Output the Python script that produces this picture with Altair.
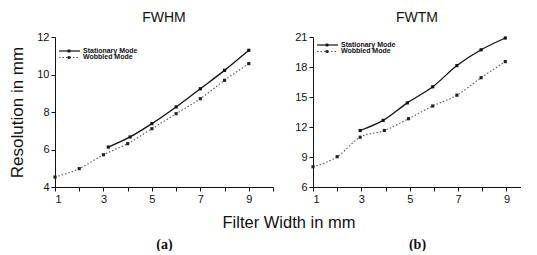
import altair as alt
import pandas as pd

# ---- data ----
fwhm_stat_x = [3.2, 4.1, 5.0, 6.0, 7.0, 8.0, 9.0]
fwhm_stat_y = [6.13, 6.67, 7.38, 8.27, 9.24, 10.22, 11.29]
fwhm_wob_x = [1, 2, 3, 4, 5, 6, 7, 8, 9]
fwhm_wob_y = [4.53, 4.98, 5.72, 6.31, 7.11, 7.91, 8.71, 9.69, 10.58]

fwtm_stat_x = [2.95, 3.9, 4.9, 5.95, 6.95, 7.95, 8.95]
fwtm_stat_y = [11.65, 12.66, 14.41, 16.02, 18.14, 19.72, 20.9]
fwtm_wob_x = [1, 2, 2.95, 3.95, 4.95, 5.95, 6.95, 7.95, 8.95]
fwtm_wob_y = [8.02, 9.03, 10.98, 11.65, 12.83, 14.1, 15.18, 16.93, 18.54]

series_names = ["Stationary Mode", "Wobbled Mode"]
fwhm_x_ticks = [1, 2, 3, 4, 5, 6, 7, 8, 9, 10]
fwtm_x_ticks = [1, 2, 3, 4, 5, 6, 7, 8, 9]
fwhm_y_ticks = [4, 6, 8, 10, 12]
fwtm_y_ticks = [6, 9, 12, 15, 18, 21]

FONT = "Liberation Sans"
H = 150


def frame(xs, ys, name):
    return pd.DataFrame({"x": xs, "y": ys, "series": name})


def panel(title, stat_x, stat_y, wob_x, wob_y, xdom, xticks, ydom, yticks, sub, ytitle, leg_y0, width, extra=None):
    df = pd.concat([frame(stat_x, stat_y, series_names[0]),
                    frame(wob_x, wob_y, series_names[1])])
    xenc = alt.X("x:Q", scale=alt.Scale(domain=xdom, nice=False),
                 axis=alt.Axis(values=xticks, title=sub,
                               labelExpr="datum.value % 2 == 1 ? datum.label : ''",
                               titleFont="Liberation Serif", titleFontSize=14,
                               titleFontWeight="bold", titlePadding=33))
    yenc = alt.Y("y:Q", scale=alt.Scale(domain=ydom, nice=False),
                 axis=alt.Axis(values=yticks, title=ytitle, titlePadding=10, titleFontSize=17))
    base = alt.Chart(df).encode(x=xenc, y=yenc)
    stat = base.transform_filter(alt.datum.series == series_names[0])
    wob = base.transform_filter(alt.datum.series == series_names[1])
    l1 = stat.mark_line(color="#111", strokeWidth=1.3, interpolate="monotone")
    p1 = stat.mark_point(shape="square", filled=True, size=10, color="#111", opacity=1)
    l2 = wob.mark_line(color="#555", strokeWidth=1.1, strokeDash=[1.5, 2], interpolate="monotone")
    p2 = wob.mark_point(shape="square", filled=True, size=10, color="#222", opacity=1)

    # legend (inside the plot, top-left)
    leg_df = pd.DataFrame({"series": series_names, "i": [0, 1]})
    lg = alt.Chart(leg_df)
    s0 = lg.transform_filter(alt.datum.i == 0)
    s1 = lg.transform_filter(alt.datum.i == 1)
    lr1 = s0.mark_rule(color="#111", strokeWidth=1.2).encode(
        x=alt.value(4), x2=alt.value(25), y=alt.value(leg_y0))
    lr2 = s1.mark_rule(color="#555", strokeWidth=1, strokeDash=[1.5, 2]).encode(
        x=alt.value(4), x2=alt.value(25), y=alt.value(leg_y0 + 6.5))
    lp1 = s0.mark_square(size=8, color="#111", opacity=1).encode(
        x=alt.value(14), y=alt.value(leg_y0))
    lp2 = s1.mark_square(size=8, color="#222", opacity=1).encode(
        x=alt.value(14), y=alt.value(leg_y0 + 6.5))
    tkw = dict(align="left", baseline="middle", fontSize=7, fontWeight="bold", font=FONT, color="#111")
    lt1 = s0.mark_text(**tkw).encode(x=alt.value(28), y=alt.value(leg_y0 - 0.5), text="series:N")
    lt2 = s1.mark_text(**tkw).encode(x=alt.value(28), y=alt.value(leg_y0 + 6), text="series:N")
    layers = [l2, l1, p2, p1, lr1, lr2, lp1, lp2, lt1, lt2]
    if extra is not None:
        layers.append(extra)
    return alt.layer(*layers).properties(
        width=width, height=H, title=alt.TitleParams(title, fontSize=14, font=FONT, fontWeight="normal", offset=6))


xlabel = alt.Chart(pd.DataFrame({"t": ["Filter Width in mm"]})).mark_text(
    fontSize=16.5, font=FONT, color="#111", baseline="middle").encode(
    x=alt.value(234), y=alt.value(186), text="t:N")
left = panel("FWHM", fwhm_stat_x, fwhm_stat_y, fwhm_wob_x, fwhm_wob_y, [1, 10], fwhm_x_ticks,
             [4, 12], fwhm_y_ticks, "(a)", "Resolution in mm", 14, 218, xlabel)
right = panel("FWTM", fwtm_stat_x, fwtm_stat_y, fwtm_wob_x, fwtm_wob_y, [1, 9.6], fwtm_x_ticks,
              [6, 21], fwtm_y_ticks, "(b)", None, 8, 208)

chart = alt.hconcat(left, right, spacing=40, bounds="flush").properties(
    padding={"top": 3, "left": 0, "right": 0, "bottom": 0}
).configure_view(stroke=None).configure_axis(
    grid=False, domainColor="#111", tickColor="#111", labelColor="#111", titleColor="#111",
    labelFont=FONT, titleFont=FONT, labelFontSize=11, titleFontSize=15, titleFontWeight="normal",
    tickSize=4, labelPadding=2
).configure_title(color="#111")

chart.save("out.html", embed_options={"renderer": "svg", "actions": False})
